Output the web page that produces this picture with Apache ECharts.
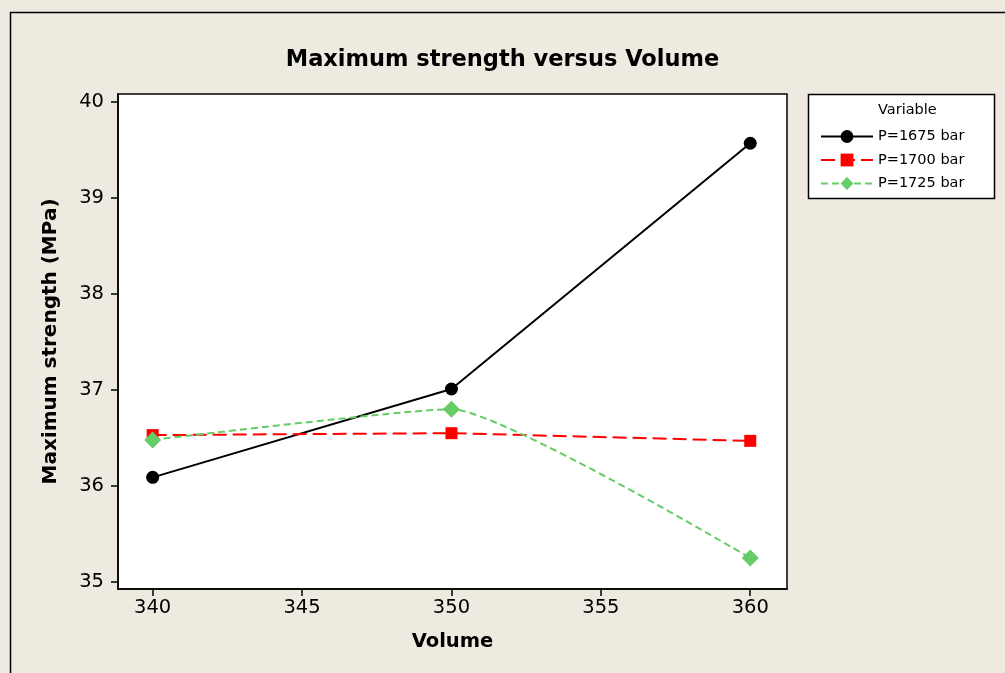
<!DOCTYPE html>
<html>
<head>
<meta charset="utf-8">
<script src="https://cdn.jsdelivr.net/npm/echarts@6/dist/echarts.min.js"></script>
<style>
  html, body { margin: 0; padding: 0; background: #EEEAE0; }
  #chart { width: 1005px; height: 673px; }
</style>
</head>
<body>
<div id="chart"></div>
<script>
// x = Volume, y = Maximum strength (MPa)
var volumes = [340, 350, 360];
var p1675 = [36.09, 37.01, 39.57];
var p1700 = [36.53, 36.55, 36.47];
var p1725 = [36.48, 36.80, 35.25];
var seriesNames = ['P=1675 bar', 'P=1700 bar', 'P=1725 bar'];
var xTicks = [340, 345, 350, 355, 360];
var yTicks = [35, 36, 37, 38, 39, 40];

function pairs(ys) {
    var out = [];
    for (var i = 0; i < volumes.length; i++) {
        out.push([volumes[i], ys[i]]);
    }
    return out;
}

var font = 'DejaVu Sans';
var myChart = echarts.init(document.getElementById('chart'));
var option = {
    backgroundColor: '#EEEAE0',
    animation: false,
    title: {
        text: 'Maximum strength versus Volume',
        left: 'center',
        top: 44,
        textStyle: {fontFamily: font, fontWeight: 'bold', fontSize: 22.5, color: '#000'}
    },
    graphic: [
        {type: 'rect', z: -10, shape: {x: 10.5, y: 12.5, width: 1100, height: 800},
            style: {fill: '#EEEAE0', stroke: '#000', lineWidth: 1.5}},
        {type: 'rect', shape: {x: 808.5, y: 94.5, width: 186, height: 104},
            style: {fill: '#fff', stroke: '#000', lineWidth: 1.5}},
        {type: 'text', left: 878, top: 103,
            style: {text: 'Variable', font: '14.5px "DejaVu Sans"', fill: '#000'}}
    ],
    legend: {
        orient: 'vertical',
        left: 815,
        top: 124,
        itemWidth: 52,
        itemHeight: 16,
        itemGap: 8.5,
        data: seriesNames,
        textStyle: {fontFamily: font, fontSize: 14.5, color: '#000', padding: [0, 0, 0, 0]}
    },
    grid: {
        left: 118, top: 94, width: 669, height: 495,
        show: true, backgroundColor: '#fff', borderColor: '#000', borderWidth: 1.5,
        containLabel: false
    },
    xAxis: {
        type: 'value',
        min: 338.84,
        max: 361.23,
        name: 'Volume',
        nameLocation: 'middle',
        nameGap: 43,
        nameTextStyle: {fontFamily: font, fontWeight: 'bold', fontSize: 19.5, color: '#000'},
        axisLine: {show: true, onZero: false, lineStyle: {color: '#000', width: 1.5}},
        axisTick: {show: true, inside: false, length: 7, customValues: xTicks,
            lineStyle: {color: '#000', width: 1.5}},
        axisLabel: {customValues: xTicks, margin: 9,
            fontFamily: font, fontSize: 19.5, color: '#000'},
        splitLine: {show: false}
    },
    yAxis: {
        type: 'value',
        min: 34.927,
        max: 40.083,
        name: 'Maximum strength (MPa)',
        nameLocation: 'middle',
        nameGap: 57,
        nameTextStyle: {fontFamily: font, fontWeight: 'bold', fontSize: 20, color: '#000'},
        axisLine: {show: true, onZero: false, lineStyle: {color: '#000', width: 1.5}},
        axisTick: {show: true, inside: false, length: 7, customValues: yTicks,
            lineStyle: {color: '#000', width: 1.5}},
        axisLabel: {customValues: yTicks, margin: 14,
            fontFamily: font, fontSize: 19.5, color: '#000'},
        splitLine: {show: false}
    },
    series: [
        {
            name: seriesNames[0],
            type: 'line',
            data: pairs(p1675),
            symbol: 'circle',
            symbolSize: 13,
            itemStyle: {color: '#000'},
            lineStyle: {color: '#000', width: 2}
        },
        {
            name: seriesNames[1],
            type: 'line',
            data: pairs(p1700),
            symbol: 'rect',
            symbolSize: 12,
            itemStyle: {color: '#FF0000'},
            lineStyle: {color: '#FF0000', width: 2, type: [14, 6]}
        },
        {
            name: seriesNames[2],
            type: 'line',
            data: pairs(p1725),
            smooth: 0.15,
            symbol: 'diamond',
            symbolSize: 17,
            itemStyle: {color: '#66CC66'},
            lineStyle: {color: '#66CC66', width: 2, type: [7, 4]}
        }
    ]
};
myChart.setOption(option);
</script>
</body>
</html>
